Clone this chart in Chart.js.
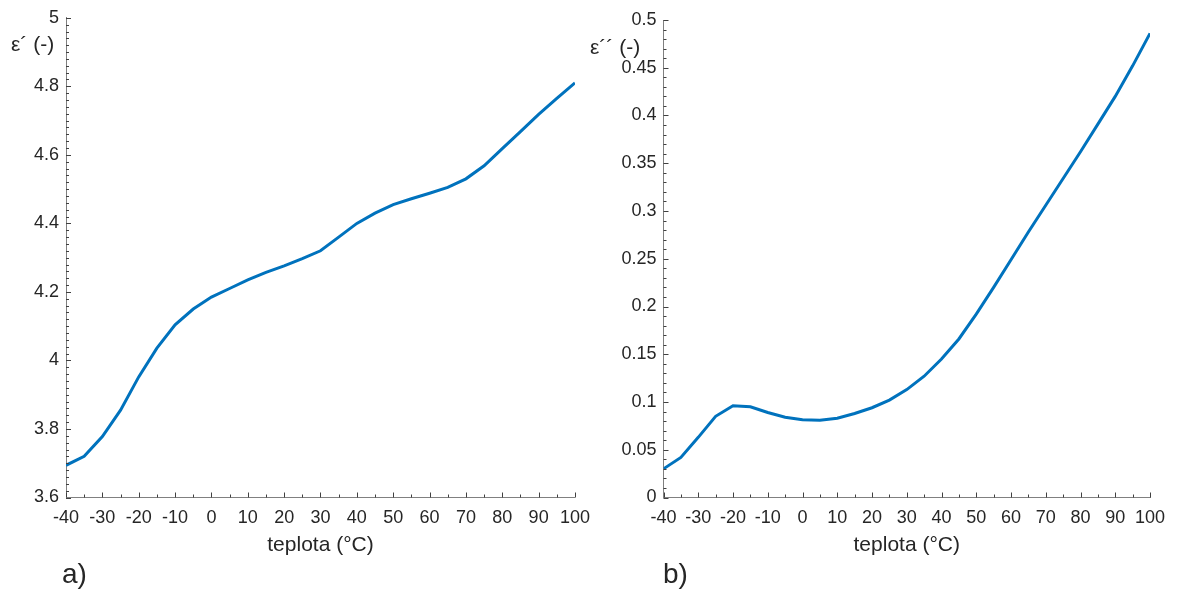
<!DOCTYPE html>
<html lang="cs">
<head>
  <meta charset="UTF-8">
  <title>Permitivita vs. teplota</title>
  <script src="https://cdn.jsdelivr.net/npm/chart.js"></script>
  <style>
    body {
      margin: 0;
      width: 1183px;
      height: 594px;
      position: relative;
      background: #fff;
      font-family: "Liberation Sans", Arial, sans-serif;
      color: #262626;
      overflow: hidden;
    }
    canvas { position: absolute; top: 0; }
    #chartA { left: 0; }
    #chartB { left: 600px; }
    .lbl { position: absolute; white-space: nowrap; line-height: 1; }
  </style>
</head>
<body>

  <canvas id="chartA" width="600" height="594"></canvas>
  <canvas id="chartB" width="583" height="594"></canvas>

  <div class="lbl" style="left:11px; top:33px; font-size:21px;">ε´ (-)</div>
  <div class="lbl" style="left:590px; top:36px; font-size:21px;">ε´´ (-)</div>
  <div class="lbl" style="left:62px; top:560px; font-size:28px;">a)</div>
  <div class="lbl" style="left:663px; top:560px; font-size:28px;">b)</div>

  <script>
    // teplota (°C)
    const teplota = [-40, -35, -30, -25, -20, -15, -10, -5, 0, 5, 10, 15, 20, 25, 30,
                     35, 40, 45, 50, 55, 60, 65, 70, 75, 80, 85, 90, 95, 100];

    // a) reálná složka permitivity
    const epsReal = [3.694, 3.72, 3.778, 3.855, 3.952, 4.036, 4.104, 4.15, 4.185, 4.21,
                     4.235, 4.257, 4.276, 4.297, 4.32, 4.36, 4.40, 4.43, 4.455, 4.472,
                     4.488, 4.505, 4.53, 4.568, 4.618, 4.668, 4.718, 4.765, 4.81];

    // b) ztrátové číslo
    const epsImag = [0.030, 0.042, 0.063, 0.085, 0.096, 0.095, 0.089, 0.084, 0.0815, 0.081,
                     0.083, 0.088, 0.094, 0.102, 0.113, 0.127, 0.145, 0.166, 0.192, 0.220,
                     0.249, 0.278, 0.306, 0.334, 0.362, 0.391, 0.420, 0.452, 0.486];

    const xTicks = [-40, -30, -20, -10, 0, 10, 20, 30, 40, 50, 60, 70, 80, 90, 100];
    const yTicksA = [3.6, 3.8, 4, 4.2, 4.4, 4.6, 4.8, 5];
    const yTicksB = [0, 0.05, 0.1, 0.15, 0.2, 0.25, 0.3, 0.35, 0.4, 0.45, 0.5];

    const FONT = "'Liberation Sans', Arial, sans-serif";
    const TEXT = '#262626';
    const AXIS = '#808080';

    // vnitřní značky os (hlavní + vedlejší), jako v MATLABu
    const innerTicks = {
      id: 'innerTicks',
      afterDatasetsDraw(chart, args, opts) {
        const ctx = chart.ctx;
        const x = chart.scales.x, y = chart.scales.y;
        const area = chart.chartArea;
        ctx.save();
        ctx.strokeStyle = '#404040';
        ctx.lineWidth = 1;
        ctx.beginPath();
        for (let v = x.min; v <= x.max + 1e-9; v += opts.minorX) {
          const px = Math.round(x.getPixelForValue(v)) + 0.5;
          const major = xTicks.some(t => Math.abs(t - v) < 1e-6);
          ctx.moveTo(px, area.bottom);
          ctx.lineTo(px, area.bottom - (major ? 5 : 3));
        }
        const n = Math.round((y.max - y.min) / opts.minorY);
        for (let i = 0; i <= n; i++) {
          const v = y.min + i * opts.minorY;
          const py = Math.round(y.getPixelForValue(v)) + 0.5;
          const major = opts.yMajor.some(t => Math.abs(t - v) < 1e-6);
          ctx.moveTo(area.left, py);
          ctx.lineTo(area.left + (major ? 5 : 3), py);
        }
        ctx.stroke();
        ctx.restore();
      }
    };

    function makeChart(id, values, yTicks, yMin, yMax, minorY, padRight, yWidth, padTop) {
      const ctx = document.getElementById(id).getContext('2d');
      return new Chart(ctx, {
        type: 'line',
        data: {
          datasets: [{
            data: teplota.map((t, i) => ({ x: t, y: values[i] })),
            borderColor: '#0072BD',
            borderWidth: 3,
            pointRadius: 0,
            tension: 0,
            fill: false
          }]
        },
        options: {
          responsive: false,
          animation: false,
          layout: { padding: { left: 0, right: padRight, top: padTop, bottom: 0 } },
          plugins: {
            legend: { display: false },
            tooltip: { enabled: false },
            innerTicks: { minorX: 5, minorY: minorY, yMajor: yTicks }
          },
          scales: {
            x: {
              type: 'linear',
              min: -40,
              max: 100,
              afterBuildTicks: s => { s.ticks = xTicks.map(v => ({ value: v })); },
              afterFit: s => { s.height = 96.5; },
              grid: { display: false, drawTicks: false },
              border: { display: true, color: AXIS, width: 1 },
              ticks: {
                padding: 10,
                color: TEXT,
                font: { family: FONT, size: 18 },
                maxRotation: 0,
                autoSkip: false
              },
              title: {
                display: true,
                text: 'teplota (°C)',
                color: TEXT,
                font: { family: FONT, size: 21 },
                padding: { top: 0, bottom: 36 }
              }
            },
            y: {
              type: 'linear',
              min: yMin,
              max: yMax,
              afterBuildTicks: s => { s.ticks = yTicks.map(v => ({ value: v })); },
              afterFit: s => { s.width = yWidth; },
              grid: { display: false, drawTicks: false },
              border: { display: true, color: AXIS, width: 1 },
              ticks: {
                padding: 7,
                color: TEXT,
                font: { family: FONT, size: 18 },
                autoSkip: false,
                callback: v => String(+v.toFixed(2))
              }
            }
          }
        },
        plugins: [innerTicks]
      });
    }

    makeChart('chartA', epsReal, yTicksA, 3.6, 5, 0.02, 20, 66, 16);
    makeChart('chartB', epsImag, yTicksB, 0, 0.5, 0.01, 33, 63.5, 20);
  </script>
</body>
</html>
